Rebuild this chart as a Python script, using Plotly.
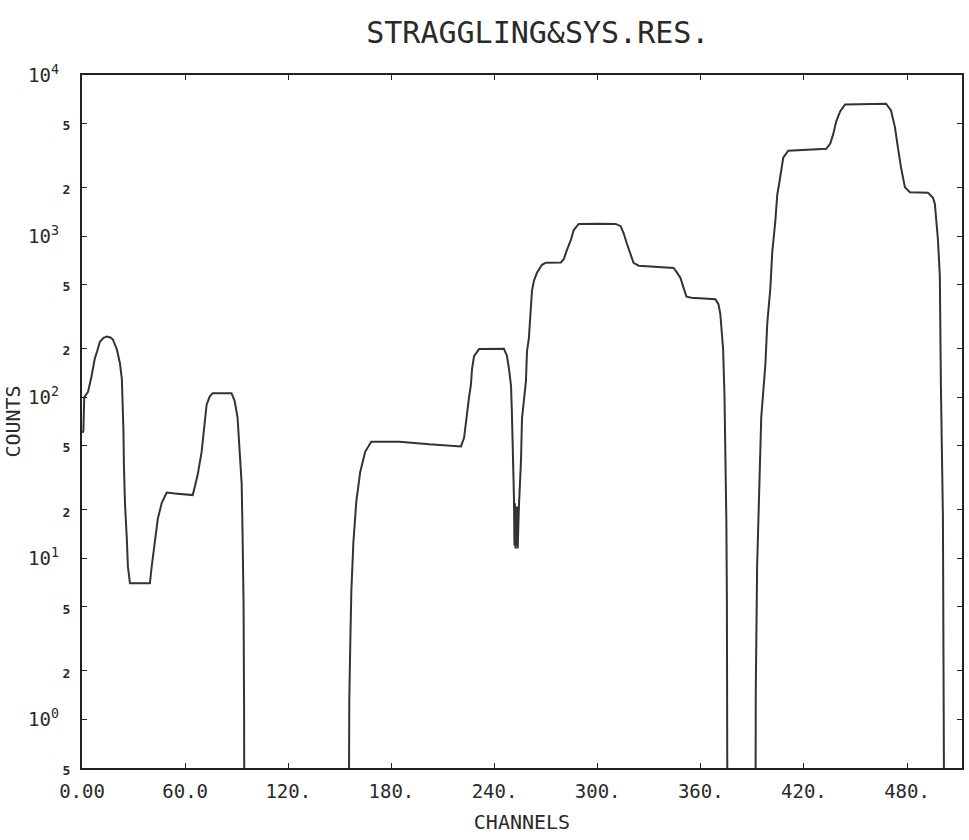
import plotly.graph_objects as go

# ---- data (channel, counts) ----
# values below the axis floor (0.5) are drawn as 1e-3 so the trace drops off-scale
channels = [
    0.3, 0.8, 1.3, 3.5, 5.5, 7.5, 8.7, 10.4, 12.5, 14.5, 16.5, 18.0, 20.3, 22.1, 23.2,
    23.8, 24.1, 24.4, 25.0, 26.1, 26.7, 27.9, 39.5, 40.6, 42.4, 44.1, 46.4, 48.2, 49.3,
    54.0, 64.4, 65.6, 67.3, 69.6, 71.4, 72.5, 74.3, 76.0, 87.0, 88.8, 90.5, 91.7, 92.9,
    93.4, 94.0, 94.3, 94.5, 95.0,
    154.5, 155.0, 155.5, 156.1, 156.7, 157.9, 159.6, 161.9, 164.8, 168.3, 184.6, 202.0,
    220.5, 222.3, 223.4, 224.0, 225.2, 226.3, 226.9, 228.1, 229.8, 231.0, 245.5, 247.2,
    248.4, 249.6, 250.1, 250.7, 251.3, 251.6, 251.9, 252.2, 252.5, 252.8, 253.1, 253.5,
    253.9, 254.2, 255.4, 256.0, 258.3, 258.9, 260.0, 261.2, 261.8, 262.9, 264.7, 267.6,
    269.9, 278.6, 280.3, 282.1, 284.4, 286.1, 289.0, 300.6, 310.5, 313.4, 315.1, 316.9,
    319.2, 320.9, 323.9, 344.2, 345.9, 348.2, 350.0, 351.7, 354.6, 368.5, 370.3, 371.4,
    372.0, 373.0, 373.8, 374.3, 374.9, 375.2, 375.5, 375.7, 376.0,
    391.5, 391.8, 392.0, 392.8, 394.1, 395.2, 397.6, 398.7, 400.5, 401.6, 403.4, 404.5,
    405.7, 406.9, 408.0, 410.9, 433.0, 435.3, 437.0, 438.8, 441.1, 444.0, 467.8, 470.7,
    473.0, 474.7, 476.5, 478.8, 481.7, 492.2, 495.1, 496.2, 498.0, 499.1, 499.7, 500.9,
    501.4, 502.0, 502.5, 512.0,
]
counts = [
    60, 62, 100, 108, 134, 175, 191, 221, 234, 238, 235, 228, 198, 162, 129,
    91, 63, 37, 22, 13.1, 8.9, 7.0, 7.0, 9.0, 13.2, 17.6, 22.1, 24.5, 25.6,
    25.3, 24.7, 27.7, 33, 45.8, 70, 90, 101, 106, 106, 95, 75, 49, 29,
    14.8, 5.2, 1.2, 0.5, 1e-3,
    1e-3, 0.5, 1.3, 3.0, 6.2, 12.6, 22.5, 34.5, 46, 53, 53, 51,
    49.5, 56, 70, 84, 100, 120, 149, 180, 193, 199, 200, 181,
    151, 118, 82, 46, 24.5, 12, 22, 11.5, 21, 12, 21, 11.5,
    20, 21, 40, 74, 126, 193, 233, 358, 457, 527, 592, 664,
    684, 687, 719, 819, 944, 1091, 1191, 1195, 1190, 1153, 1045, 906,
    774, 682, 655, 634, 600, 550, 477, 421, 415, 406, 378, 328,
    272, 200, 104, 50, 17, 5.7, 1.0, 0.5, 1e-3,
    1e-3, 0.5, 1.45, 9, 26.8, 75, 160, 288, 476, 796, 1242, 1800,
    2143, 2656, 3065, 3390, 3480, 3742, 4264, 5138, 5935, 6565, 6640, 6021,
    4731, 3556, 2673, 2009, 1874, 1858, 1731, 1588, 950, 569, 123, 18,
    3.9, 0.5, 1e-3, 1e-3,
]

x_tickvals = [0, 60, 120, 180, 240, 300, 360, 420, 480]
x_ticktext = ["0.00", "60.0", "120.", "180.", "240.", "300.", "360.", "420.", "480."]

y_tickvals = [0.5, 1, 2, 5, 10, 20, 50, 100, 200, 500, 1000, 2000, 5000, 10000]
y_labels = ["5", "10^0", "2", "5", "10^1", "2", "5", "10^2", "2", "5", "10^3", "2", "5", "10^4"]

def fmt(lbl):
    if lbl.startswith("10^"):
        return "10<sup>" + lbl[3:] + "</sup>\u00a0"
    return "<span style='font-size:13px;font-weight:bold'>" + lbl + "</span>"

y_ticktext = [fmt(s) for s in y_labels]

FONT = "DejaVu Sans Mono"
INK = "#2a2a2a"

fig = go.Figure()
fig.add_trace(go.Scatter(
    x=channels, y=counts, mode="lines",
    line=dict(color="#333333", width=2),
    hoverinfo="skip", showlegend=False,
))

fig.update_layout(
    width=969, height=840,
    margin=dict(l=82, r=5, t=75, b=72),
    paper_bgcolor="white", plot_bgcolor="white",
    font=dict(family=FONT, color=INK, size=19),
    title=dict(
        text="STRAGGLING&SYS.RES.",
        x=0.555, xref="container", xanchor="center",
        y=1 - 32 / 840, yref="container", yanchor="middle",
        font=dict(family=FONT, size=30, color=INK),
    ),
    xaxis=dict(
        range=[0, 512], showgrid=False, zeroline=False,
        showline=True, linecolor="#222", linewidth=1.5, mirror="ticks",
        ticks="inside", ticklen=5, tickcolor="#222", tickwidth=1.2,
        tickvals=x_tickvals, ticktext=x_ticktext,
        tickfont=dict(family=FONT, size=19, color=INK),
        ticklabelstandoff=5,
        title=dict(text="CHANNELS", font=dict(family=FONT, size=20, color=INK), standoff=14),
    ),
    yaxis=dict(
        type="log", range=[-0.30103, 4], showgrid=False, zeroline=False,
        showline=True, linecolor="#222", linewidth=1.5, mirror="ticks",
        ticks="inside", ticklen=5, tickcolor="#222", tickwidth=1.2,
        tickvals=y_tickvals, ticktext=y_ticktext,
        tickfont=dict(family=FONT, size=19, color=INK),
        ticklabelstandoff=6,
        title=dict(text="COUNTS", font=dict(family=FONT, size=20, color=INK), standoff=2),
    ),
)

fig.write_html("out.html")
